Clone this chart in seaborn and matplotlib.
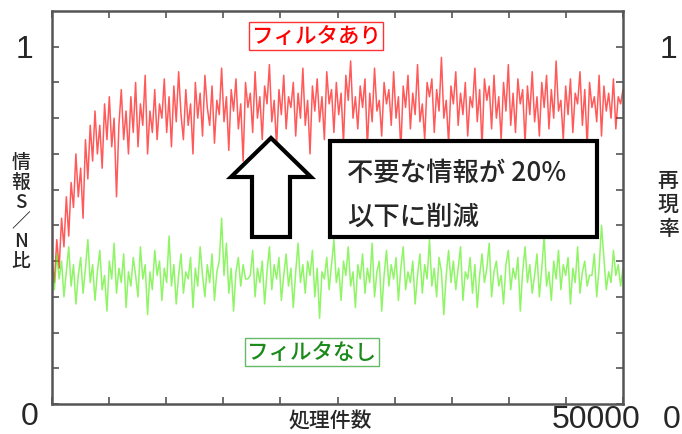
import seaborn as sns
import matplotlib.pyplot as plt
from matplotlib.patches import Polygon, Rectangle
import numpy as np

# 処理件数 (x) と情報S/N比 (y)
n_samples = 240
x_count = np.linspace(0, 50000, n_samples)

# フィルタあり
snr_filter = [
    0.40, 0.34, 0.46, 0.38, 0.52, 0.44, 0.58, 0.47, 0.62,
    0.55, 0.70, 0.58, 0.66, 0.52, 0.74, 0.63, 0.78, 0.68,
    0.82, 0.70, 0.78, 0.66, 0.84, 0.74, 0.86, 0.72, 0.80, 0.58,
    0.78, 0.88, 0.74, 0.82, 0.70, 0.86, 0.76, 0.90, 0.72, 0.84, 0.78, 0.92, 0.70, 0.82, 0.76, 0.88, 0.74, 0.84,
    0.80, 0.91, 0.76, 0.86, 0.72, 0.89, 0.79, 0.93, 0.81, 0.74, 0.88, 0.78,
    0.84, 0.70, 0.90, 0.80, 0.87, 0.75, 0.92, 0.83, 0.78, 0.89, 0.73, 0.85,
    0.81, 0.94, 0.79, 0.86, 0.71, 0.88, 0.82, 0.91, 0.77, 0.84, 0.68, 0.90,
    0.83, 0.87, 0.76, 0.93, 0.80, 0.86, 0.74, 0.89, 0.84, 0.95, 0.79, 0.85,
    0.72, 0.88, 0.81, 0.92, 0.77, 0.86, 0.83, 0.90, 0.75, 0.87, 0.80, 0.94,
    0.78, 0.85, 0.70, 0.89, 0.82, 0.91, 0.79, 0.86, 0.74, 0.93, 0.84, 0.88,
    0.76, 0.90, 0.81, 0.87, 0.73, 0.92, 0.85, 0.96, 0.80, 0.86, 0.77, 0.89,
    0.83, 0.91, 0.72, 0.87, 0.79, 0.94, 0.82, 0.85, 0.75, 0.90, 0.84, 0.88,
    0.78, 0.93, 0.80, 0.86, 0.71, 0.89, 0.83, 0.92, 0.77, 0.87, 0.81, 0.95,
    0.79, 0.84, 0.74, 0.90, 0.86, 0.91, 0.76, 0.88, 0.82, 0.97, 0.80, 0.85,
    0.73, 0.89, 0.84, 0.93, 0.78, 0.87, 0.81, 0.90, 0.75, 0.86, 0.83, 0.94,
    0.79, 0.88, 0.72, 0.91, 0.85, 0.89, 0.77, 0.92, 0.80, 0.86, 0.74, 0.90,
    0.82, 0.95, 0.78, 0.87, 0.76, 0.91, 0.84, 0.88, 0.73, 0.89, 0.81, 0.93,
    0.79, 0.86, 0.75, 0.90, 0.83, 0.92, 0.77, 0.88, 0.80, 0.96, 0.82, 0.85,
    0.74, 0.89, 0.81, 0.91, 0.76, 0.87, 0.84, 0.93, 0.78, 0.88, 0.72, 0.90,
    0.83, 0.86, 0.79, 0.92, 0.75, 0.89, 0.82, 0.87, 0.80, 0.91, 0.77, 0.86,
    0.84, 0.88,
]

# フィルタなし
snr_nofilter = [
    0.38, 0.32, 0.42, 0.35, 0.40, 0.30, 0.37, 0.44, 0.33, 0.39, 0.28, 0.36,
    0.41, 0.31, 0.38, 0.46, 0.34, 0.39, 0.29, 0.37, 0.43, 0.32, 0.36, 0.26,
    0.40, 0.35, 0.45, 0.31, 0.38, 0.34, 0.42, 0.27, 0.37, 0.33, 0.41, 0.36,
    0.30, 0.44, 0.35, 0.39, 0.25, 0.37, 0.32, 0.43, 0.36, 0.40, 0.29, 0.38,
    0.34, 0.47, 0.33, 0.39, 0.28, 0.36, 0.42, 0.31, 0.37, 0.35, 0.41, 0.27,
    0.38, 0.33, 0.44, 0.36, 0.30, 0.39, 0.34, 0.42, 0.29, 0.37, 0.40, 0.52,
    0.36, 0.45, 0.31, 0.38, 0.26, 0.37, 0.41, 0.33, 0.39, 0.35, 0.35, 0.36,
    0.43, 0.30, 0.38, 0.34, 0.40, 0.28, 0.37, 0.44, 0.32, 0.39, 0.35, 0.41,
    0.29, 0.36, 0.42, 0.33, 0.38, 0.27, 0.37, 0.45, 0.34, 0.39, 0.31, 0.40,
    0.36, 0.43, 0.30, 0.38, 0.24, 0.37, 0.35, 0.41, 0.32, 0.39, 0.46, 0.34,
    0.38, 0.29, 0.40, 0.36, 0.44, 0.33, 0.37, 0.27, 0.39, 0.35, 0.42, 0.31,
    0.38, 0.34, 0.45, 0.30, 0.37, 0.40, 0.26, 0.36, 0.43, 0.33, 0.39, 0.35,
    0.41, 0.29, 0.38, 0.44, 0.32, 0.37, 0.34, 0.40, 0.28, 0.36, 0.42, 0.31,
    0.39, 0.35, 0.46, 0.33, 0.38, 0.30, 0.41, 0.37, 0.25, 0.36, 0.43, 0.34,
    0.40, 0.32, 0.38, 0.44, 0.29, 0.37, 0.35, 0.41, 0.31, 0.39, 0.27, 0.36,
    0.42, 0.34, 0.38, 0.45, 0.30, 0.37, 0.40, 0.33, 0.36, 0.28, 0.39, 0.43,
    0.32, 0.38, 0.35, 0.41, 0.26, 0.37, 0.44, 0.34, 0.39, 0.31, 0.36, 0.42,
    0.30, 0.38, 0.47, 0.33, 0.37, 0.29, 0.40, 0.35, 0.43, 0.32, 0.39, 0.36,
    0.41, 0.28, 0.38, 0.34, 0.44, 0.31, 0.37, 0.40, 0.33, 0.36, 0.36, 0.42,
    0.30, 0.38, 0.50, 0.41, 0.32, 0.37, 0.34, 0.43, 0.36, 0.39, 0.33, 0.38,
]

x_ticks = np.arange(0, 50001, 5000)
y_ticks = np.arange(0, 1.01, 0.1)

sns.set_style("white")
plt.rcParams['font.family'] = ['Noto Sans CJK JP', 'DejaVu Sans']

fig = plt.figure(figsize=(6.82, 4.35), dpi=100)
ax = fig.add_axes([52 / 682, 1 - 405 / 435, 571 / 682, 393 / 435])

sns.lineplot(x=x_count, y=snr_filter, ax=ax, color='#ff0000', lw=1.1, alpha=0.65)
sns.lineplot(x=x_count, y=snr_nofilter, ax=ax, color='#44ee00', lw=1.1, alpha=0.6)

ax.set_xlim(0, 50000)
ax.set_ylim(0, 1.1)
ax.set_xticks(x_ticks)
ax.set_yticks(y_ticks)
ax.set_xticklabels([])
ax.set_yticklabels([])
ax.tick_params(direction='in', length=5, width=1.2, color='#555555',
               top=True, right=True, bottom=True, left=True)
for sp in ax.spines.values():
    sp.set_color('#555555')
    sp.set_linewidth(1.8)
ax.set_xlabel('')
ax.set_ylabel('')

# 凡例の代わりのラベル
ax.text(0.463, 1 - 25 / 393, 'フィルタあり', transform=ax.transAxes, color='#ff0000',
        fontsize=15.5, fontweight='medium', ha='center', va='center', zorder=5,
        bbox=dict(boxstyle='square,pad=0.12', fc='white', ec='#ff3333', lw=1))
ax.text(0.455, 1 - 341 / 393, 'フィルタなし', transform=ax.transAxes, color='#1a8a1a',
        fontsize=15.5, fontweight='medium', ha='center', va='center', zorder=5,
        bbox=dict(boxstyle='square,pad=0.12', fc='white', ec='#66bb66', lw=1))

# 白抜きの上向き矢印
def px(x, y):
    return ((x - 52) / 571, (405 - y) / 393)

arrow_pts = [px(252, 238), px(252, 178), px(231, 178), px(271, 139),
             px(311, 178), px(290, 178), px(290, 238)]
ax.add_patch(Polygon(arrow_pts, closed=True, fc='white', ec='black', lw=3,
                     transform=ax.transAxes, zorder=6))

# 説明ボックス
x0, y0 = px(330, 238)
x1, y1 = px(597, 142)
ax.add_patch(Rectangle((x0, y0), x1 - x0, y1 - y0, fc='white', ec='black', lw=3,
                       transform=ax.transAxes, zorder=6))
tx, ty = px(347, 173)
ax.text(tx, ty, '不要な情報が 20%', transform=ax.transAxes, fontsize=19,
        fontweight='medium', ha='left', va='center', zorder=7)
tx, ty = px(347, 217)
ax.text(tx, ty, '以下に削減', transform=ax.transAxes, fontsize=19,
        fontweight='medium', ha='left', va='center', zorder=7)

# 軸の数字と軸ラベル
fig.text(25 / 682, 1 - 50 / 435, '1', fontsize=23, ha='center', va='center',
         family='Liberation Sans')
fig.text(30 / 682, 1 - 417 / 435, '0', fontsize=23, ha='center', va='center',
         family='Liberation Sans')
fig.text(596 / 682, 1 - 420 / 435, '50000', fontsize=23, ha='center', va='center',
         family='Liberation Sans')
fig.text(681 / 682, 1 - 420 / 435, '0', fontsize=23, ha='right', va='center',
         family='Liberation Sans')
fig.text(677 / 682, 1 - 50 / 435, '1', fontsize=23, ha='right', va='center',
         family='Liberation Sans')
fig.text(330 / 682, 1 - 422 / 435, '処理件数', fontsize=15, fontweight='medium',
         ha='center', va='center')
fig.text(21 / 682, 1 - 212 / 435, '情\n報\nS\n／\nN\n比', fontsize=13.5,
         fontweight='medium', ha='center', va='center', linespacing=1.05)
fig.text(668 / 682, 1 - 205 / 435, '再\n現\n率', fontsize=15, fontweight='medium',
         ha='center', va='center', linespacing=1.1)

fig.savefig('out.png', dpi=100)
